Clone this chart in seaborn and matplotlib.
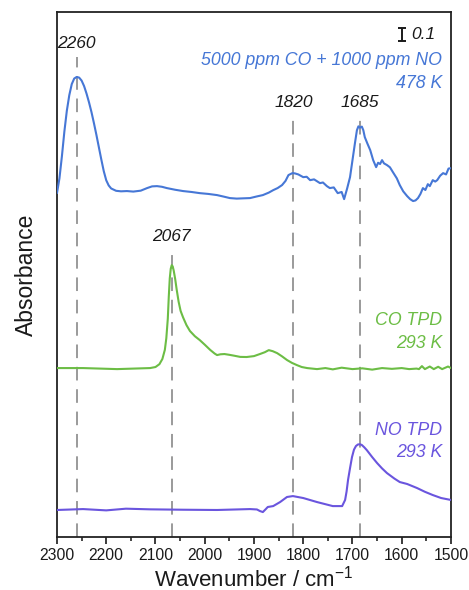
import numpy as np
import pandas as pd
import matplotlib
matplotlib.use("Agg")
import matplotlib.pyplot as plt
import seaborn as sns

# --- spectra (wavenumber / cm-1, absorbance, stacked with offsets) ---
coNO_wn = [2300, 2295, 2290, 2285, 2280, 2275, 2270, 2265, 2260, 2255, 2250, 2245,
           2240, 2235, 2230, 2225, 2220, 2215, 2210, 2205, 2200, 2195, 2190, 2180,
           2170, 2158, 2145, 2130, 2117, 2107, 2097, 2087, 2077, 2060, 2044, 2027,
           2010, 1993, 1975, 1960, 1949, 1935, 1922, 1908, 1895, 1882,
           1870, 1861, 1852, 1843, 1836, 1830, 1822, 1817, 1810, 1800, 1793, 1786,
           1778, 1766, 1760, 1752, 1746, 1738, 1730, 1722, 1717, 1711, 1705, 1700,
           1695, 1691, 1688, 1685, 1681, 1678, 1675, 1670, 1664, 1658, 1652, 1648,
           1644, 1640, 1636, 1630, 1624, 1618, 1610, 1604, 1597, 1589, 1583, 1577,
           1572, 1567, 1562, 1557, 1552, 1547, 1543, 1537, 1532, 1528, 1522, 1516,
           1510, 1505, 1500]
coNO_abs = [2.646, 2.760, 2.930, 3.120, 3.280, 3.400, 3.485, 3.528, 3.540, 3.535, 3.512, 3.470,
            3.412, 3.345, 3.270, 3.185, 3.095, 3.000, 2.905, 2.815, 2.745, 2.705, 2.682, 2.664,
            2.660, 2.662, 2.658, 2.665, 2.685, 2.698, 2.700, 2.695, 2.685, 2.672, 2.662, 2.655,
            2.646, 2.640, 2.631, 2.618, 2.608, 2.604, 2.606, 2.608, 2.620, 2.631,
            2.650, 2.669, 2.685, 2.708, 2.740, 2.785, 2.800, 2.798, 2.790, 2.769, 2.772, 2.746,
            2.752, 2.723, 2.728, 2.700, 2.685, 2.690, 2.646, 2.655, 2.600, 2.680, 2.769, 2.900,
            3.031, 3.130, 3.160, 3.150, 3.158, 3.130, 3.077, 3.030, 2.977, 2.900, 2.846, 2.880,
            2.870, 2.900, 2.875, 2.862, 2.845, 2.808, 2.760, 2.708, 2.660, 2.623, 2.600, 2.585,
            2.590, 2.608, 2.640, 2.685, 2.670, 2.715, 2.700, 2.746, 2.735, 2.746, 2.780, 2.800,
            2.790, 2.835, 2.838]

co_wn = [2300, 2247, 2178, 2111, 2100, 2092, 2086, 2081, 2078, 2075, 2073, 2071,
         2069, 2067, 2065, 2063, 2060, 2057, 2053, 2049, 2044, 2037, 2030, 2020,
         2010, 2000, 1989, 1980, 1975, 1968, 1960, 1950, 1940, 1928, 1915, 1900,
         1888, 1878, 1870, 1862, 1853, 1843,
         1833, 1823, 1813, 1803, 1792, 1772, 1755, 1740, 1722, 1700, 1680, 1660, 1640, 1620,
         1600, 1585, 1570, 1565, 1559, 1553, 1543, 1535, 1526, 1518, 1506, 1500]
co_abs = [1.300, 1.300, 1.292, 1.300, 1.308, 1.330, 1.370, 1.440, 1.530, 1.680, 1.850, 1.990,
          2.065, 2.092, 2.082, 2.050, 1.985, 1.905, 1.810, 1.740, 1.690, 1.630, 1.585, 1.545,
          1.515, 1.480, 1.440, 1.412, 1.400, 1.406, 1.408, 1.402, 1.395, 1.386, 1.385, 1.392,
          1.408, 1.422, 1.438, 1.430, 1.415, 1.390,
          1.362, 1.340, 1.323, 1.308, 1.300, 1.292, 1.300, 1.290, 1.303, 1.292, 1.298, 1.288,
          1.300, 1.294,
          1.300, 1.292, 1.296, 1.292, 1.315, 1.292, 1.312, 1.292, 1.310, 1.292, 1.312, 1.300]

no_wn = [2300, 2247, 2200, 2160, 2111, 2044, 1975, 1908, 1894, 1888, 1882, 1876, 1872,
         1861, 1847, 1833, 1821, 1800, 1772, 1740, 1721, 1715, 1712, 1709, 1705, 1701,
         1697, 1693, 1689, 1685, 1681, 1676, 1671, 1660, 1650, 1640, 1630, 1615, 1604,
         1589, 1569, 1553, 1537, 1520, 1500]
no_abs = [0.208, 0.215, 0.205, 0.218, 0.213, 0.210, 0.208, 0.215, 0.212, 0.200, 0.192, 0.215, 0.231,
          0.238, 0.269, 0.308, 0.315, 0.300, 0.269, 0.238, 0.238, 0.285, 0.350, 0.440, 0.530, 0.615,
          0.672, 0.700, 0.712, 0.714, 0.708, 0.690, 0.669, 0.615, 0.569, 0.528, 0.492, 0.450, 0.423,
          0.408, 0.377, 0.348, 0.323, 0.300, 0.285]

# --- annotations ---
peak_wn = [2260, 2067, 1820, 1685]
peak_text = ["2260", "2067", "1820", "1685"]
peak_label_y = [3.80, 2.315, 3.346, 3.346]

series_names = ["5000 ppm CO + 1000 ppm NO", "CO TPD", "NO TPD"]
series_temps = ["478 K", "293 K", "293 K"]
series_label_y = [3.665, 1.665, 0.823]
series_colors = ["#4677d6", "#6cbd45", "#6a55de"]

scale_bar = 0.1
xtick_values = [2300, 2200, 2100, 2000, 1900, 1800, 1700, 1600, 1500]

sns.set_style("ticks")
plt.rcParams["font.family"] = ["Liberation Sans", "DejaVu Sans"]
plt.rcParams["mathtext.default"] = "regular"

fig = plt.figure(figsize=(4.69, 5.90), dpi=100)
ax = fig.add_axes([0.1215, 0.0898, 0.8401, 0.8899])

text_color = "#1a1a1a"
dash_color = "#9a9a9a"

# dashed guides behind the spectra
for wn, txt, ly in zip(peak_wn, peak_text, peak_label_y):
    ax.plot([wn, wn], [0, ly - 0.11], color=dash_color, lw=1.4,
            dashes=(7, 4.5), zorder=1)
    ax.text(wn, ly, txt, ha="center", va="center",
            style="italic", fontsize=12.5, color=text_color)

spectra = [(coNO_wn, coNO_abs), (co_wn, co_abs), (no_wn, no_abs)]
for (wn, ab), col in zip(spectra, series_colors):
    df = pd.DataFrame({"wn": wn, "A": ab})
    sns.lineplot(data=df, x="wn", y="A", ax=ax, color=col, lw=1.5,
                 sort=False, estimator=None, zorder=3)

# series labels, right aligned
x_right = 1518
for name, temp, y, col in zip(series_names, series_temps, series_label_y, series_colors):
    ax.text(x_right, y, name, ha="right", va="center", style="italic",
            fontsize=12.8, color=col)
    ax.text(x_right, y - 0.175, temp, ha="right", va="center", style="italic",
            fontsize=12.8, color=col)

# absorbance scale bar
ax.errorbar([1600], [3.865], yerr=[[scale_bar / 2], [scale_bar / 2]],
            color=text_color, capsize=3.2, elinewidth=1.4, capthick=1.4, fmt="none")
ax.text(1580, 3.865, f"{scale_bar}", ha="left", va="center", style="italic",
        fontsize=12.5, color=text_color)

ax.set_xlim(2300, 1500)
ax.set_ylim(0, 4.04)
ax.set_xticks(xtick_values)
ax.set_xticks(np.arange(1550, 2300, 100), minor=True)
ax.set_yticks([])
ax.tick_params(axis="x", which="major", direction="out", length=5, width=1.2,
               labelsize=11.3, pad=3, colors=text_color)
ax.tick_params(axis="x", which="minor", direction="out", length=3, width=1.2)
for s in ax.spines.values():
    s.set_visible(True)
    s.set_linewidth(1.3)
    s.set_color("#222222")

ax.set_xlabel(r"Wavenumber / cm$^{\mathregular{-1}}$", fontsize=16, labelpad=1.5,
              color=text_color)
ax.set_ylabel("Absorbance", fontsize=16.5, labelpad=14, color=text_color)

fig.savefig("out.png", dpi=100)
